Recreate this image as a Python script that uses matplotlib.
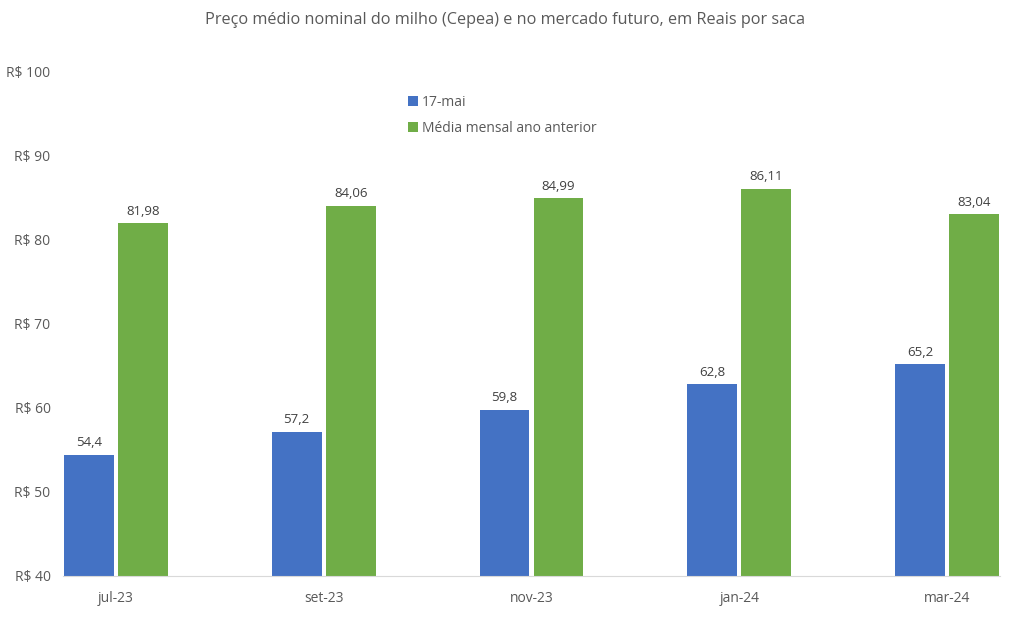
import matplotlib.pyplot as plt
import numpy as np

categories = ['jul-23', 'set-23', 'nov-23', 'jan-24', 'mar-24']
maio17 = [54.4, 57.2, 59.8, 62.8, 65.2]
media_ano_anterior = [81.98, 84.06, 84.99, 86.11, 83.04]
series_names = ['17-mai', 'Média mensal ano anterior']
yticks = [40, 50, 60, 70, 80, 90, 100]

plt.rcParams['font.family'] = ['Open Sans', 'DejaVu Sans']
txt = '#595959'

fig = plt.figure(figsize=(10.13, 6.3), dpi=100)
ax = fig.add_axes([63 / 1013, 1 - 576 / 630, (1000 - 63) / 1013, (576 - 72) / 630])

x = np.arange(len(categories))
w = 0.24
off = 0.13
b1 = ax.bar(x - off, maio17, w, color='#4472C4', label=series_names[0])
b2 = ax.bar(x + off, media_ano_anterior, w, color='#70AD47', label=series_names[1])

def fmt(v):
    return f'{v:g}'.replace('.', ',')

for bars, vals in ((b1, maio17), (b2, media_ano_anterior)):
    for b, v in zip(bars, vals):
        ax.annotate(fmt(v), (b.get_x() + b.get_width() / 2, v), xytext=(0, 4),
                    textcoords='offset points', ha='center', va='bottom',
                    fontsize=9.5, color='#404040')

ax.set_xlim(-0.255, 4.255)
ax.set_ylim(40, 100)
ax.set_yticks(yticks)
ax.set_yticklabels([f'R$ {t}' for t in yticks])
ax.set_xticks(x)
ax.set_xticklabels(categories)
ax.tick_params(length=0, labelsize=10, colors=txt)
ax.tick_params(axis='x', pad=11)
ax.tick_params(axis='y', pad=9)
for s in ['left', 'right', 'top']:
    ax.spines[s].set_visible(False)
ax.spines['bottom'].set_color('#d9d9d9')

ax.legend(loc='upper left', bbox_to_anchor=(0.355, 0.98), frameon=False,
          fontsize=10, labelcolor=txt, handlelength=0.7, handleheight=0.7,
          handletextpad=0.3, labelspacing=0.8)

fig.text(505 / 1013, 1 - 20 / 630, 'Preço médio nominal do milho (Cepea) e no mercado futuro, em Reais por saca',
         ha='center', va='center', fontsize=11.7, color=txt)

fig.savefig('out.png', dpi=100)
